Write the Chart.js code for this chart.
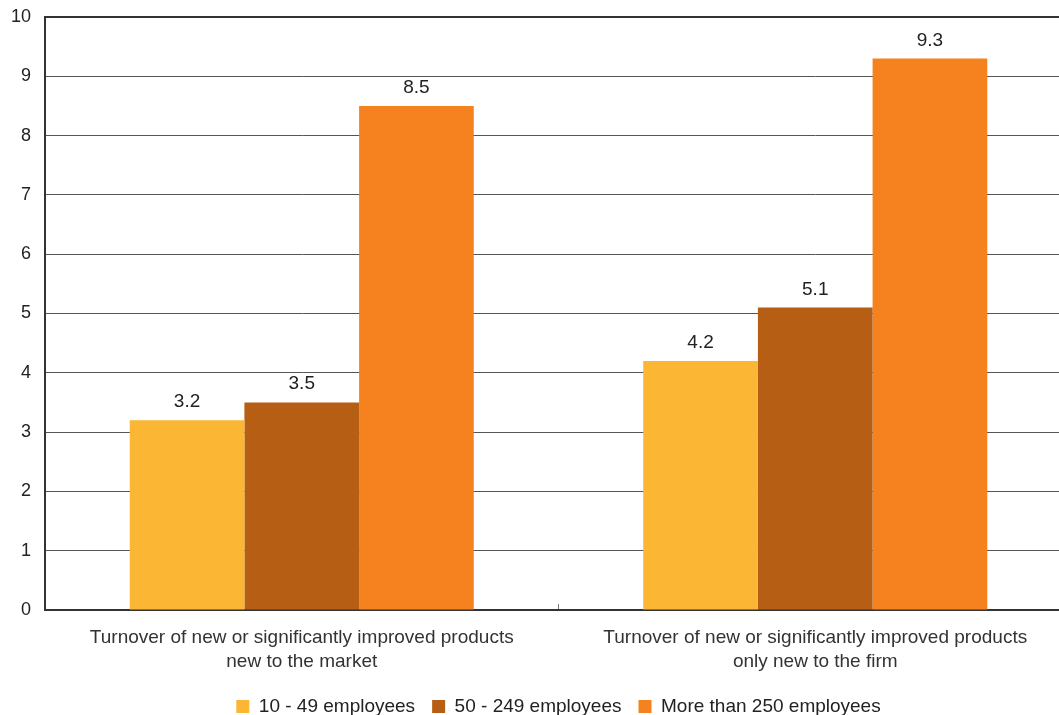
<!DOCTYPE html>
<html>
<head>
<meta charset="utf-8">
<script src="https://cdn.jsdelivr.net/npm/chart.js@4.4.1/dist/chart.umd.min.js"></script>
<style>
  html, body { margin: 0; padding: 0; background: #fff; overflow: hidden; }
  #wrap { position: relative; width: 1072px; height: 726px; }
</style>
</head>
<body>
<div id="wrap"><canvas id="c"></canvas></div>
<script>
// Turnover share by enterprise size class
const categories = [
  ["Turnover of new or significantly improved products", "new to the market"],
  ["Turnover of new or significantly improved products", "only new to the firm"]
];
const seriesNames = ["10 - 49 employees", "50 - 249 employees", "More than 250 employees"];
const small = [3.2, 4.2];
const medium = [3.5, 5.1];
const large = [8.5, 9.3];
const yTicks = [0, 1, 2, 3, 4, 5, 6, 7, 8, 9, 10];

const colors = ["#FBB634", "#B65F14", "#F5821F"];
const fontFamily = "'Liberation Sans', Arial, sans-serif";

// Writes each bar's value just above it
const valueLabels = {
  id: "valueLabels",
  afterDatasetsDraw(chart) {
    const ctx = chart.ctx;
    ctx.save();
    ctx.font = "19px " + fontFamily;
    ctx.fillStyle = "#222";
    ctx.textAlign = "center";
    ctx.textBaseline = "alphabetic";
    chart.data.datasets.forEach((ds, i) => {
      chart.getDatasetMeta(i).data.forEach((bar, j) => {
        ctx.fillText(ds.data[j].toFixed(1), bar.x, bar.y - 13);
      });
    });
    ctx.restore();
  }
};

new Chart(document.getElementById("c"), {
  type: "bar",
  data: {
    labels: categories,
    datasets: [
      { label: seriesNames[0], data: small, backgroundColor: colors[0] },
      { label: seriesNames[1], data: medium, backgroundColor: colors[1] },
      { label: seriesNames[2], data: large, backgroundColor: colors[2] }
    ]
  },
  options: {
    responsive: true,
    maintainAspectRatio: false,
    animation: false,
    layout: { padding: { top: 17, left: 0, right: 0, bottom: 0 } },
    datasets: { bar: { categoryPercentage: 0.67, barPercentage: 1.0 } },
    plugins: {
      legend: {
        position: "bottom",
        fullSize: false,
        labels: {
          font: { size: 19, family: fontFamily },
          color: "#222",
          boxWidth: 13,
          boxHeight: 13,
          padding: 17,
          useBorderRadius: false
        }
      },
      tooltip: { enabled: false }
    },
    scales: {
      x: {
        offset: true,
        grid: {
          offset: true,
          drawOnChartArea: false,
          drawTicks: true,
          tickLength: -6,
          color: "#777"
        },
        border: { display: true, color: "#333", width: 2 },
        ticks: {
          font: { size: 19, family: fontFamily, lineHeight: 1.3 },
          color: "#333",
          padding: 21,
          maxRotation: 0,
          autoSkip: false
        },
        afterFit(scale) { scale.height = 70; }
      },
      y: {
        min: 0,
        max: 10,
        afterBuildTicks(scale) { scale.ticks = yTicks.map(v => ({ value: v })); },
        grid: {
          color: ctx => (ctx.tick && ctx.tick.value === 10 ? "#333" : "#555"),
          lineWidth: ctx => (ctx.tick && ctx.tick.value === 10 ? 2 : 1),
          drawTicks: false
        },
        border: { display: true, color: "#333", width: 2 },
        ticks: {
          font: { size: 18, family: fontFamily },
          color: "#222",
          padding: 14
        },
        afterFit(scale) {
          scale.width = 45;
          scale.paddingTop = 0;
          scale.paddingBottom = 0;
        }
      }
    }
  },
  plugins: [valueLabels]
});
</script>
</body>
</html>
